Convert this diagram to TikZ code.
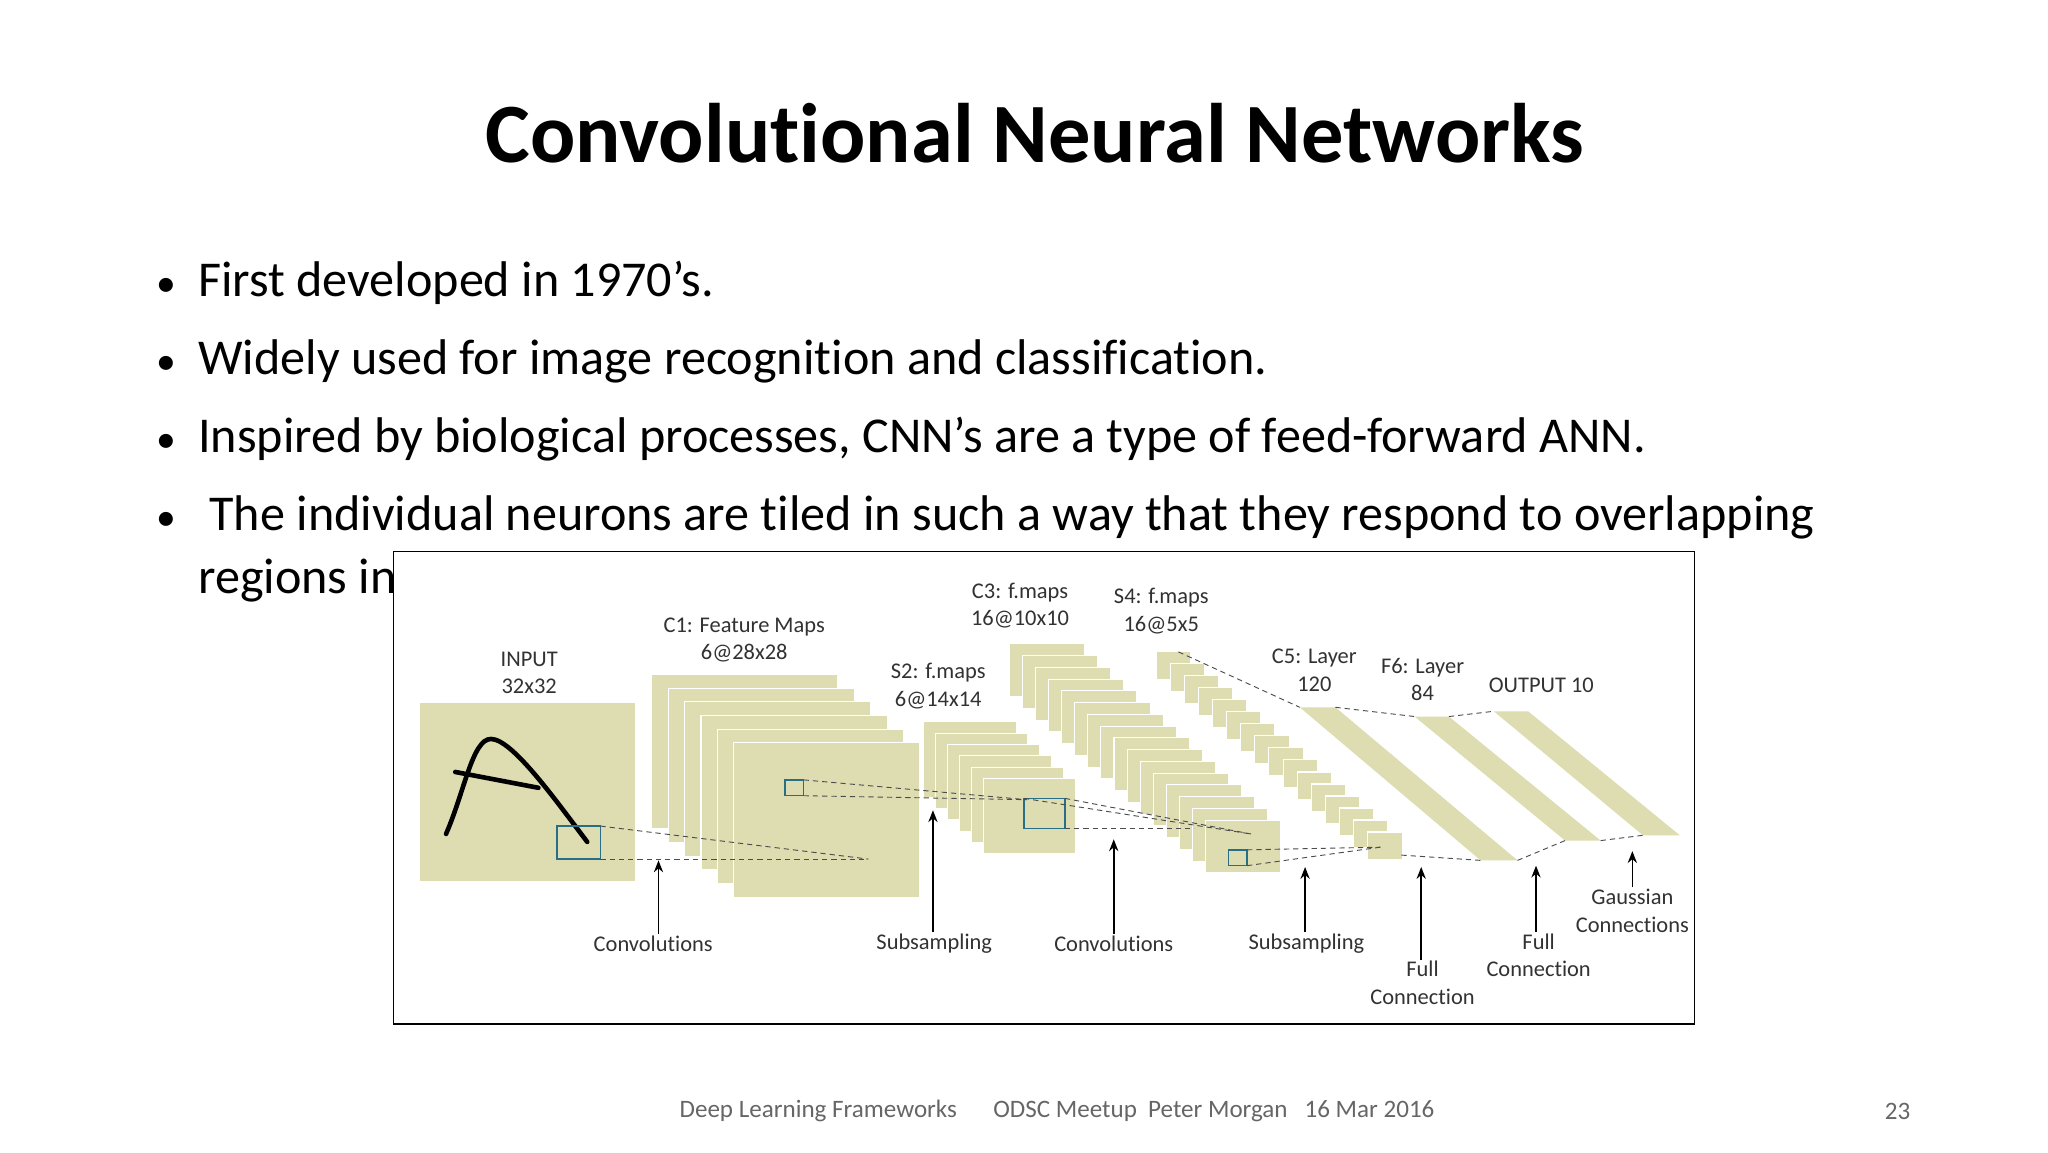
\documentclass[tikz,border=0pt]{standalone}
\usepackage{fontspec}
\setmainfont{Carlito}[Ligatures=NoCommon]
\usetikzlibrary{arrows.meta}
\definecolor{olive}{RGB}{222,221,178}
\definecolor{boxblue}{RGB}{40,110,135}
\definecolor{lbl}{RGB}{50,50,50}
\tikzset{
  sheet/.style={fill=olive,draw=white,line width=0.8pt},
  bluebox/.style={draw=boxblue,line width=1.1pt},
  dl/.style={dashed,draw=black!70,line width=0.7pt,dash pattern=on 4pt off 3pt},
  lab/.style={text=lbl,font=\fontsize{17}{21}\selectfont,align=center,inner sep=1pt},
  upar/.style={-{Stealth[length=9pt,width=7pt]},line width=1.2pt},
  bul/.style={anchor=base west,font=\fontsize{38}{44}\selectfont,inner sep=0pt}
}
\begin{document}
\begin{tikzpicture}[x=1pt,y=-1pt]
\useasboundingbox (0,0) rectangle (1552,873);
\fill[white] (0,0) rectangle (1552,873);
\node[font=\bfseries\fontsize{64}{70}\selectfont] (title) at (784,101) {Convolutional Neural Networks};
\foreach \yy/\tt [count=\i] in {225/{First developed in 1970’s.},284/{Widely used for image recognition and classification.},343/{Inspired by biological processes, CNN’s are a type of feed-forward ANN.},402/{\ The individual neurons are tiled in such a way that they respond to overlapping}}{
  \node[bul] (b\i) at (150,\yy) {\tt};
  \node[anchor=base,font=\fontsize{30}{36}\selectfont,inner sep=0pt] (dot\i) at (126,\yy) {•};
}
\node[bul] (b5) at (150,450) {regions in};
% frame
\draw[fill=white,line width=1pt] (298,418) rectangle (1284,776);
% input
\fill[olive] (318,533) rectangle (481,668);
\node[lab] (inl) at (401,510) {INPUT\\32x32};
\draw[line width=3.5pt,line cap=round] (338,632) .. controls (352,600) and (358,560) .. (372,560) .. controls (388,560) and (420,605) .. (445,638);
\draw[line width=3.5pt,line cap=round] (345,585) -- (408,597);
\draw[bluebox] (422,626) rectangle (455,651);
% C1
\foreach \k in {0,...,5}{\path[sheet] ({494+12.4*\k},{511+10.4*\k}) rectangle ++(141,117);}
\node[lab] (c1l) at (564,485) {C1: Feature Maps\\6@28x28};
\draw[bluebox] (595,591) rectangle (609,603);
\draw[dl] (455,626) -- (658,651);
\draw[dl] (455,651) -- (658,651);
% S2
\foreach \k in {0,...,5}{\path[sheet] ({700+9*\k},{547+8.6*\k}) rectangle ++(70,57);}
\node[lab] (s2l) at (711,520) {S2: f.maps\\6@14x14};
\draw[bluebox] (776,605) rectangle (807,628);
\draw[dl] (609,591) -- (778,606);
\draw[dl] (609,603) -- (778,606);
% C3
\foreach \k in {0,...,15}{\path[sheet] ({765+9.9*\k},{488+8.9*\k}) rectangle ++(57,40);}
\node[lab] (c3l) at (773,459) {C3: f.maps\\16@10x10};
\draw[bluebox] (931,644) rectangle (945,656);
\draw[dl] (776,605) -- (948,632);
\draw[dl] (807,605) -- (948,632);
\draw[dl] (807,628) -- (905,628);
% S4
\foreach \k in {0,...,15}{\path[sheet] ({876+10.7*\k},{494+9.1*\k}) rectangle ++(26,21);}
\node[lab] (s4l) at (880,463) {S4: f.maps\\16@5x5};
\draw[dl] (945,644) -- (1046,642);
\draw[dl] (945,656) -- (1046,642);
\draw[dl] (893,494) -- (985,536);
% C5 F6 OUT
\fill[olive] (985,536) -- (1012,536) -- (1150,652) -- (1122,652) -- cycle;
\fill[olive] (1072,543) -- (1098,543) -- (1213,637) -- (1186,637) -- cycle;
\fill[olive] (1132,539) -- (1158,539) -- (1273,633) -- (1245,633) -- cycle;
\node[lab] (c5l) at (996,508) {C5: Layer\\120};
\node[lab] (f6l) at (1078,515) {F6: Layer\\84};
\node[lab] (outl) at (1168,519) {OUTPUT 10};
\draw[dl] (1012,536) -- (1072,543);
\draw[dl] (1098,543) -- (1132,539);
\draw[dl] (1062,648) -- (1122,652);
\draw[dl] (1150,652) -- (1186,637);
\draw[dl] (1213,637) -- (1245,633);
% arrows
\node[lab] (a1) at (495,715) {Convolutions};
\node[lab] (a2) at (708,715) {Subsampling};
\node[lab] (a3) at (844,715) {Convolutions};
\node[lab] (a4) at (990,715) {Subsampling};
\node[lab] (a5) at (1078,745) {Full\\Connection};
\node[lab] (a6) at (1166,724) {Full\\Connection};
\node[lab] (a7) at (1237,690) {Gaussian\\Connections};
\coordinate (t1) at (499,652); \coordinate (t2) at (707,614);
\coordinate (t3) at (844,636); \coordinate (t4) at (989,657);
\coordinate (t5) at (1077,657); \coordinate (t6) at (1164,656);
\coordinate (t7) at (1237,645);
\draw[upar] (a1.north -| t1) -- (t1);
\draw[upar] (a2.north -| t2) -- (t2);
\draw[upar] (a3.north -| t3) -- (t3);
\draw[upar] (a4.north -| t4) -- (t4);
\draw[upar] (a5.north -| t5) -- (t5);
\draw[upar] (a6.north -| t6) -- (t6);
\draw[upar] (a7.north -| t7) -- (t7);
% footer
\node[text=black!60,font=\fontsize{19}{23}\selectfont] (foot) at (801,842) {Deep Learning Frameworks \quad\ ODSC Meetup\ \ Peter Morgan\ \ \ 16 Mar 2016};
\node[text=black!60,font=\fontsize{19}{23}\selectfont] (pg) at (1438,842) {23};
\end{tikzpicture}
\end{document}
